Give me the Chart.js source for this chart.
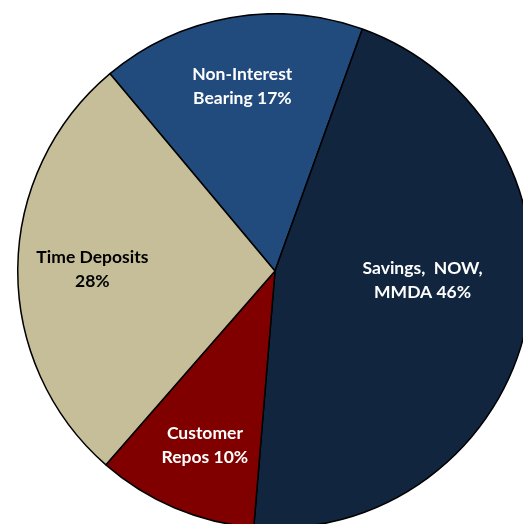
<!DOCTYPE html>
<html>
<head>
<meta charset="utf-8">
<script src="https://cdn.jsdelivr.net/npm/chart.js@4.4.0/dist/chart.umd.min.js"></script>
<style>
  html,body{margin:0;padding:0;background:#fff;width:523px;height:524px;overflow:hidden;position:relative;}
  #wrap{position:absolute;left:17px;top:13px;width:516px;height:516px;}
</style>
</head>
<body>
<div id="wrap"><canvas id="pie" width="516" height="516"></canvas></div>
<script>
const categories = ['Non-Interest Bearing','Savings, NOW, MMDA','Customer Repos','Time Deposits'];
const shares = [16.6, 45.8, 10.1, 27.5];
const labelLines = [
  ['Non-Interest','Bearing 17%'],
  ['Savings,  NOW,','MMDA 46%'],
  ['Customer','Repos 10%'],
  ['Time Deposits','28%']
];
const sliceColors = ['#214A7D','#11253F','#800000','#C5BE98'];
const textColors = ['#ffffff','#ffffff','#ffffff','#000000'];
// radial fraction + angle tweak (deg) for each label
const labelRadius = [0.73, 0.575, 0.73, 0.71];
const labelTurn = [0, -8.5, -1, 0];

const sliceLabels = {
  id:'sliceLabels',
  afterDatasetsDraw(chart){
    const ctx = chart.ctx;
    const arcs = chart.getDatasetMeta(0).data;
    ctx.save();
    ctx.font = 'bold 17.5px Lato, "Open Sans", sans-serif';
    ctx.textAlign = 'center';
    ctx.textBaseline = 'middle';
    arcs.forEach((a,i)=>{
      const mid = (a.startAngle + a.endAngle)/2 + labelTurn[i]*Math.PI/180;
      const r = a.outerRadius*labelRadius[i];
      const x = a.x + Math.cos(mid)*r;
      const y = a.y + Math.sin(mid)*r;
      ctx.fillStyle = textColors[i];
      const lines = labelLines[i];
      lines.forEach((t,k)=>{
        ctx.fillText(t, x, y + (k-(lines.length-1)/2)*24);
      });
    });
    ctx.restore();
  }
};

new Chart(document.getElementById('pie'), {
  type:'pie',
  data:{
    labels: categories,
    datasets:[{
      data: shares,
      backgroundColor: sliceColors,
      borderColor:'#000',
      borderWidth:1.5
    }]
  },
  options:{
    responsive:false,
    animation:false,
    rotation:-39.9,
    layout:{padding:0},
    plugins:{legend:{display:false},tooltip:{enabled:false}}
  },
  plugins:[sliceLabels]
});
</script>
</body>
</html>
